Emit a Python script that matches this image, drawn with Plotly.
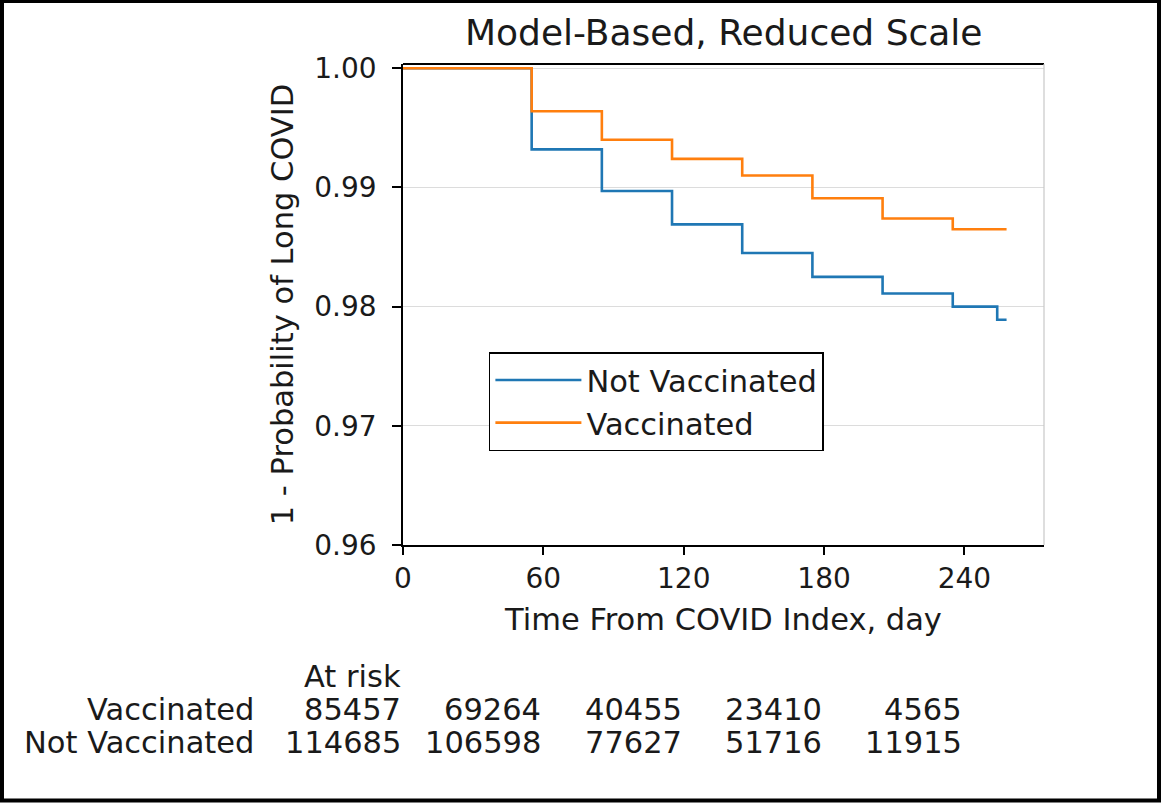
import plotly.graph_objects as go

# ---- data ----
vacc_days = [0, 55, 85, 115, 145, 175, 205, 235, 258]
vacc_surv = [1.0, 0.9964, 0.9940, 0.9924, 0.9910, 0.9891, 0.9874, 0.9865, 0.9865]

notvacc_days = [0, 55, 85, 115, 145, 175, 205, 235, 254, 258]
notvacc_surv = [1.0, 0.9932, 0.9897, 0.9869, 0.9845, 0.9825, 0.9811, 0.9800, 0.9789, 0.9789]

risk_days = [0, 60, 120, 180, 240]
vacc_risk = [85457, 69264, 40455, 23410, 4565]
notvacc_risk = [114685, 106598, 77627, 51716, 11915]

x_ticks = [0, 60, 120, 180, 240]
y_ticks = [0.96, 0.97, 0.98, 0.99, 1.00]

FONT = "DejaVu Sans"
TXT = "#1a1a1a"
BLUE = "#1f77b4"
ORANGE = "#ff7f0e"
TBL = 30.5

fig = go.Figure()
fig.add_trace(go.Scatter(x=notvacc_days, y=notvacc_surv, mode="lines",
                         line=dict(color=BLUE, width=2.6, shape="hv"),
                         name="Not Vaccinated"))
fig.add_trace(go.Scatter(x=vacc_days, y=vacc_surv, mode="lines",
                         line=dict(color=ORANGE, width=2.6, shape="hv"),
                         name="Vaccinated"))

annotations = []
# title
annotations.append(dict(text="Model-Based, Reduced Scale", x=0.5, y=1, xref="paper", yref="paper",
                        xanchor="center", yanchor="bottom", yshift=9, showarrow=False,
                        font=dict(family=FONT, size=36, color=TXT)))
# at-risk table
row_y = {"head": -0.2744, "vacc": -0.341, "notvacc": -0.4116}
annotations.append(dict(text="At risk", x=0, y=row_y["head"], xref="x", yref="paper",
                        xanchor="right", yanchor="middle", showarrow=False,
                        font=dict(family=FONT, size=TBL, color=TXT)))
annotations.append(dict(text="Vaccinated", x=-0.23, y=row_y["vacc"], xref="paper", yref="paper",
                        xanchor="right", yanchor="middle", showarrow=False,
                        font=dict(family=FONT, size=TBL, color=TXT)))
annotations.append(dict(text="Not Vaccinated", x=-0.23, y=row_y["notvacc"], xref="paper", yref="paper",
                        xanchor="right", yanchor="middle", showarrow=False,
                        font=dict(family=FONT, size=TBL, color=TXT)))
for d, v, nv in zip(risk_days, vacc_risk, notvacc_risk):
    annotations.append(dict(text=str(v), x=d, y=row_y["vacc"], xref="x", yref="paper",
                            xanchor="right", yanchor="middle", showarrow=False,
                            font=dict(family=FONT, size=TBL, color=TXT)))
    annotations.append(dict(text=str(nv), x=d, y=row_y["notvacc"], xref="x", yref="paper",
                            xanchor="right", yanchor="middle", showarrow=False,
                            font=dict(family=FONT, size=TBL, color=TXT)))

shapes = [
    # outer frame around the whole picture
    dict(type="rect", xref="paper", yref="paper", x0=-0.6256, x1=1.1794, y0=-0.531, y1=1.1310,
         line=dict(color="black", width=4), fillcolor="rgba(0,0,0,0)", layer="above"),
    # top spine (black) and right spine (light gray)
    dict(type="line", xref="paper", yref="paper", x0=0, x1=1, y0=1, y1=1,
         line=dict(color="black", width=2), layer="above"),
    dict(type="line", xref="paper", yref="paper", x0=1, x1=1, y0=0, y1=1,
         line=dict(color="#c8c8c8", width=1.2), layer="above"),
]

fig.update_layout(
    width=1162, height=804,
    margin=dict(l=403, r=118, t=64, b=259),
    paper_bgcolor="white", plot_bgcolor="white",
    font=dict(family=FONT, size=28, color=TXT),
    showlegend=True,
    legend=dict(x=0.134, y=0.401, xanchor="left", yanchor="top",
                bgcolor="white", bordercolor="black", borderwidth=1.5,
                font=dict(family=FONT, size=30.5, color=TXT),
                itemwidth=86, tracegroupgap=4),
    annotations=annotations,
    shapes=shapes,
)

fig.update_xaxes(range=[0, 274], tickmode="array", tickvals=x_ticks,
                 ticktext=[str(t) for t in x_ticks],
                 ticks="outside", ticklen=8, tickwidth=1.5, tickcolor="black",
                 showline=True, linecolor="black", linewidth=1.5,
                 showgrid=False, zeroline=False,
                 tickfont=dict(family=FONT, size=28, color=TXT),
                 title=dict(text="Time From COVID Index, day", standoff=14,
                            font=dict(family=FONT, size=30.5, color=TXT)))
fig.update_yaxes(range=[0.96, 1.00036], tickmode="array", tickvals=y_ticks,
                 ticktext=[f"{t:.2f}" for t in y_ticks],
                 ticks="outside", ticklen=9, tickwidth=1.5, tickcolor="black",
                 ticklabelstandoff=10,
                 showline=True, linecolor="black", linewidth=1.5,
                 showgrid=True, gridcolor="#dcdcdc", gridwidth=1.2, zeroline=False,
                 tickfont=dict(family=FONT, size=28, color=TXT),
                 title=dict(text="1 - Probability of Long COVID", standoff=12,
                            font=dict(family=FONT, size=30.5, color=TXT)))

fig.write_html("out.html", config={"displayModeBar": False},
               post_script="document.body.style.margin='0';document.body.style.padding='0';")
